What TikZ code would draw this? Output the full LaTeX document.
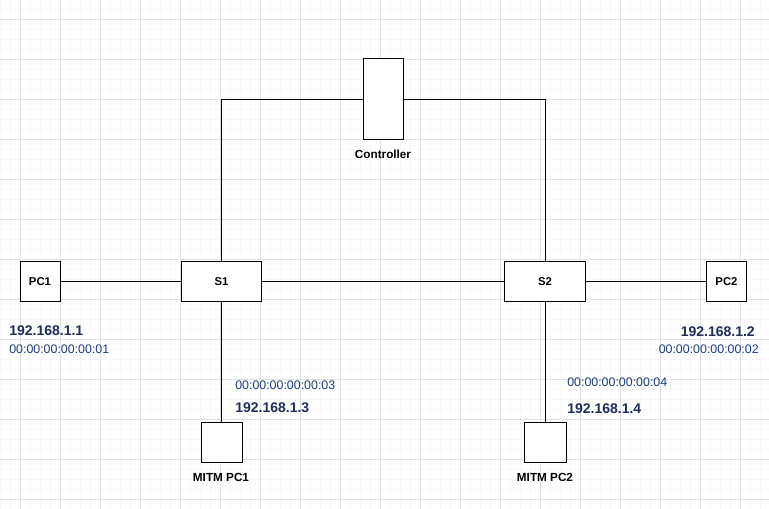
\documentclass[tikz,border=0pt]{standalone}
\usepackage{fontspec}
\setmainfont{Liberation Sans}
\usetikzlibrary{positioning}

\definecolor{ipblue}{RGB}{30,45,90}
\definecolor{macblue}{RGB}{30,60,125}
\definecolor{gridmajor}{RGB}{226,226,226}
\definecolor{gridminor}{RGB}{248,248,248}

\begin{document}
\begin{tikzpicture}[
    x=0.75pt,y=-0.75pt,
    box/.style={draw,line width=0.75pt,fill=white,inner sep=0pt,
      font=\fontsize{8.5}{10}\selectfont\bfseries},
    host/.style={box,minimum width=30pt,minimum height=30pt},
    switchbox/.style={box,minimum width=60.5pt,minimum height=30pt},
    caption/.style={inner sep=0pt,font=\fontsize{8.8}{10}\selectfont\bfseries},
    ip/.style={inner sep=0pt,text=ipblue,font=\fontsize{10.5}{12}\selectfont\bfseries},
    mac/.style={inner sep=0pt,text=macblue,font=\fontsize{9.3}{11}\selectfont},
    link/.style={line width=0.75pt}]
  \useasboundingbox (0,0) rectangle (769,509);
  % background grid
  \foreach \x in {0,10,...,760} \draw[gridminor,line width=0.5pt] (\x,0) -- (\x,509);
  \foreach \y in {9.5,19.5,...,509} \draw[gridminor,line width=0.5pt] (0,\y) -- (769,\y);
  \foreach \x in {20,60,...,740} \draw[gridmajor,line width=0.6pt] (\x,0) -- (\x,509);
  \foreach \y in {19.5,59.5,...,499.5} \draw[gridmajor,line width=0.6pt] (0,\y) -- (769,\y);

  % devices
  \node[host] (pc1) at (40,282) {PC1};
  \node[switchbox] (s1) at (221.5,282) {S1};
  \node[switchbox] (s2) at (545,282) {S2};
  \node[host] (pc2) at (726.5,282) {PC2};
  \node[box,minimum width=30pt,minimum height=60.75pt] (ctrl) at (383,99.5) {};
  \node[host,minimum width=30.75pt] (mitm1) at (221.5,443) {};
  \node[host,minimum width=31.5pt] (mitm2) at (545,443) {};

  % captions
  \node[caption] (ctrllabel) at (383,154) {Controller};
  \node[caption] (mitm1label) at (221,477) {MITM PC1};
  \node[caption] (mitm2label) at (545,477) {MITM PC2};

  % addresses
  \node[ip,anchor=west] (ip1) at (9,331) {192.168.1.1};
  \node[mac,anchor=west] (mac1) at (9,349) {00:00:00:00:00:01};
  \node[ip,anchor=east] (ip2) at (755,332) {192.168.1.2};
  \node[mac,anchor=east] (mac2) at (759,349) {00:00:00:00:00:02};
  \node[mac,anchor=west] (mac3) at (235,385) {00:00:00:00:00:03};
  \node[ip,anchor=west] (ip3) at (235,408) {192.168.1.3};
  \node[mac,anchor=west] (mac4) at (567,382) {00:00:00:00:00:04};
  \node[ip,anchor=west] (ip4) at (567,409) {192.168.1.4};

  % links
  \draw[link] (pc1) -- (s1);
  \draw[link] (s1) -- (s2);
  \draw[link] (s2) -- (pc2);
  \draw[link] (ctrl.west) -| (s1.north);
  \draw[link] (ctrl.east) -| (s2.north);
  \draw[link] (s1) -- (mitm1);
  \draw[link] (s2) -- (mitm2);
\end{tikzpicture}
\end{document}
